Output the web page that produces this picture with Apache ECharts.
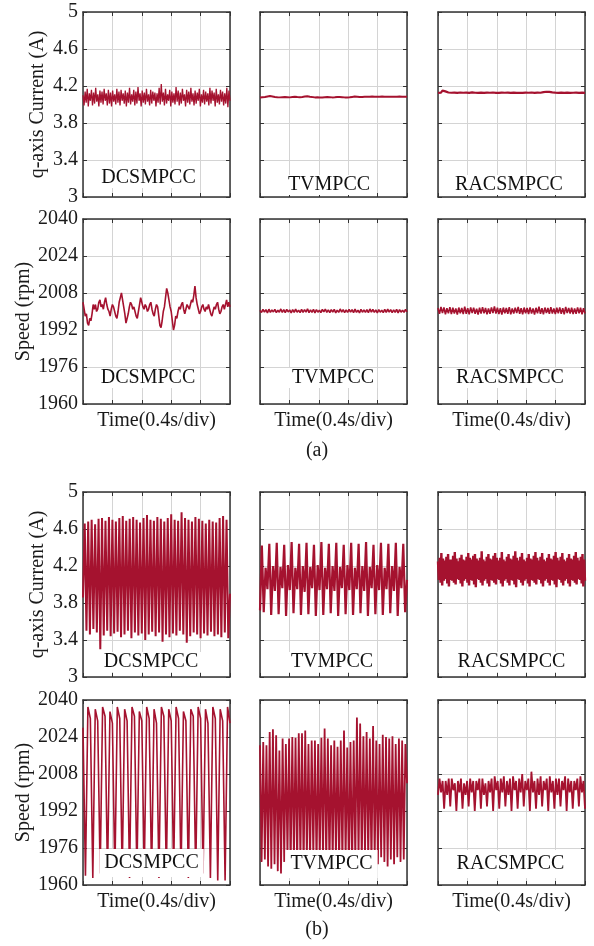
<!DOCTYPE html>
<html>
<head>
<meta charset="utf-8">
<script src="https://cdn.jsdelivr.net/npm/echarts@6/dist/echarts.min.js"></script>
<style>
html,body{margin:0;padding:0;background:#fff;}
#chart{width:594px;height:946px;}
</style>
</head>
<body>
<div id="chart"></div>
<script>
// ---------- data ----------
const methods = ['DCSMPCC', 'TVMPCC', 'RACSMPCC'];
const currentTicks = {min: 3, max: 5, interval: 0.4};
const speedTicks = {min: 1960, max: 2040, interval: 16};
const timeName = 'Time(0.4s/div)';
const currentName = 'q-axis Current (A)';
const speedName = 'Speed (rpm)';
const panelTags = ['(a)', '(b)'];

// (a) q-axis current
const a_iq_dcs = [
4.10,3.99,4.14,4.02,4.17,3.98,4.12,4.04,4.16,3.99,4.13,4.01,4.18,4.03,4.11,3.98,4.15,4.02,4.14,4.00,
4.17,4.04,4.12,3.99,4.16,4.01,4.13,3.98,4.15,4.03,4.11,4.00,4.17,4.02,4.14,3.99,4.16,4.04,4.12,4.01,
4.15,3.98,4.13,4.02,4.18,4.00,4.11,4.03,4.16,3.99,4.14,4.01,4.19,4.04,4.12,3.98,4.15,4.02,4.13,4.00,
4.17,4.03,4.11,3.99,4.16,4.01,4.14,4.04,4.13,3.98,4.12,4.02,4.18,4.00,4.22,4.03,4.13,3.99,4.17,4.01,
4.11,4.04,4.16,3.98,4.14,4.02,4.12,4.00,4.19,4.03,4.15,3.99,4.13,4.01,4.17,4.04,4.11,3.98,4.16,4.02,
4.14,4.00,4.18,4.03,4.12,3.99,4.15,4.01,4.13,4.04,4.17,3.98,4.11,4.02,4.16,4.00,4.14,4.03,4.12,3.99,
4.18,4.01,4.15,4.04,4.13,3.98,4.17,4.02,4.11,4.00,4.16,4.03,4.14,3.99,4.12,4.01,4.18,3.97,4.15,4.04];
const a_iq_tv = [
4.076,4.079,4.082,4.087,4.091,4.087,4.082,4.079,4.077,4.079,
4.081,4.079,4.077,4.080,4.083,4.080,4.078,4.081,4.086,4.089,
4.084,4.080,4.077,4.078,4.076,4.075,4.078,4.080,4.079,4.077,
4.078,4.080,4.081,4.079,4.077,4.076,4.078,4.082,4.086,4.084,
4.081,4.082,4.084,4.083,4.085,4.087,4.085,4.083,4.084,4.086,
4.085,4.083,4.084,4.085,4.083,4.084,4.086,4.085,4.084,4.085];
const a_iq_rac = [
4.125,4.140,4.128,4.150,4.132,4.142,4.124,4.130,4.114,4.127,
4.116,4.129,4.112,4.126,4.115,4.130,4.113,4.127,4.117,4.128,
4.112,4.126,4.115,4.131,4.114,4.127,4.111,4.125,4.116,4.129,
4.113,4.126,4.115,4.128,4.112,4.127,4.116,4.130,4.113,4.126,
4.111,4.125,4.114,4.128,4.112,4.127,4.115,4.129,4.113,4.126,
4.116,4.128,4.112,4.125,4.114,4.127,4.111,4.126,4.115,4.129,
4.113,4.127,4.116,4.130,4.114,4.126,4.112,4.128,4.115,4.127,
4.118,4.133,4.122,4.138,4.124,4.136,4.119,4.131,4.116,4.128,
4.113,4.126,4.115,4.129,4.112,4.125,4.114,4.128,4.111,4.126,
4.115,4.127,4.112,4.129,4.114,4.126,4.113,4.128,4.112,4.125];

// (a) speed
const a_sp_dcs = [
2004,2001,1998,1999,1995,1994,1997,1996,1999,2003,2001,2003,2000,2001,2004,2005,2002,2003,2001,2004,
2006,2003,2001,2000,1998,2001,2003,2002,2000,1998,1997,2000,2004,2006,2008,2005,2002,1999,1995,1997,
1999,2002,2004,2003,2001,2002,2000,1998,1997,2000,2003,2006,2004,2002,2001,2003,2002,2000,2001,2003,
2004,2001,1999,1998,2001,2003,2002,1998,1994,1993,1996,2000,2002,2006,2010,2008,2005,2002,2000,1996,
1992,1994,1998,1997,2000,2002,2001,2003,2004,2001,1999,2001,2003,2002,2001,2003,2005,2004,2007,2011,
2006,2003,2001,1999,2000,2002,2003,2001,2000,2002,2001,2003,2001,1999,1998,2000,2002,2001,2003,2004,
2001,1999,2000,2002,2003,2001,2003,2005,2002,2004,2002];
const a_sp_tv = [
2000.5,1999.6,2000.9,1999.7,2000.8,1999.4,2001.0,1999.6,2000.7,1999.8,
2000.9,1999.5,2000.6,1999.7,2001.1,1999.6,2000.8,1999.5,2000.9,1999.8,
2000.7,1999.4,2000.8,1999.6,2001.0,1999.7,2000.6,1999.5,2000.9,1999.6,
2000.8,1999.7,2001.2,1999.5,2000.7,1999.6,2000.9,1999.4,2000.8,1999.7,
2000.6,1999.5,2000.9,1999.8,2001.0,1999.6,2000.7,1999.5,2000.8,1999.7,
2000.9,1999.4,2000.6,1999.6,2001.1,1999.7,2000.8,1999.5,2000.7,1999.6,
2000.9,1999.7,2000.8,1999.5,2001.0,1999.6,2000.6,1999.4,2000.9,1999.7,
2000.7,1999.6,2000.8,1999.5,2001.1,1999.7,2000.9,1999.6,2000.7,1999.4,
2000.8,1999.7,2000.6,1999.5,2000.9,1999.6,2001.0,1999.7,2000.8,1999.5,
2000.7,1999.6,2000.9,1999.4,2000.8,1999.7,2000.6,1999.6,2000.9,1999.8];
const a_sp_rac = [
2001.5,1999.0,2002.0,1999.3,2001.8,1998.8,2001.4,1999.2,2001.9,1998.9,
2001.6,1999.1,2001.3,1998.7,2001.7,1999.2,2001.5,1998.9,2002.1,1999.0,
2001.4,1998.8,2001.8,1999.3,2001.6,1999.0,2001.2,1998.7,2001.7,1999.1,
2001.9,1999.2,2001.5,1998.8,2001.3,1999.0,2001.8,1999.3,2002.2,1999.1,
2001.6,1998.9,2001.4,1998.7,2001.7,1999.2,2001.5,1999.0,2001.9,1998.8,
2001.3,1999.1,2001.6,1999.3,2002.0,1999.0,2001.4,1998.8,2001.7,1999.2,
2001.5,1998.9,2001.8,1999.1,2001.3,1998.7,2001.6,1999.2,2002.1,1999.0,
2001.4,1998.8,2001.7,1999.3,2001.5,1999.0,2001.9,1999.1,2001.3,1998.9,
2001.6,1999.2,2001.8,1999.0,2001.4,1998.8,2002.0,1999.3,2001.5,1999.1,
2001.7,1998.9,2001.3,1999.0,2001.8,1999.2,2001.6,1998.8,2001.4,1999.1];

// (b) q-axis current
const b_iq_dcs = [3.86,
4.66,3.50,4.68,3.46,4.70,3.52,4.65,3.48,4.71,3.30,4.72,3.45,4.69,3.50,4.73,3.44,4.70,3.47,4.68,3.49,
4.72,3.43,4.74,3.46,4.69,3.50,4.71,3.42,4.73,3.48,4.70,3.45,4.67,3.47,4.72,3.40,4.75,3.46,4.70,3.49,
4.69,3.44,4.73,3.48,4.71,3.38,4.68,3.46,4.72,3.43,4.76,3.47,4.70,3.45,4.69,3.50,4.78,3.46,4.72,3.37,
4.70,3.44,4.68,3.48,4.73,3.46,4.71,3.42,4.69,3.47,4.66,3.45,4.70,3.49,4.68,3.44,4.67,3.46,4.72,3.43,
4.74,3.48,4.70,3.42,3.90];
const b_iq_tv = [
3.72,4.42,3.70,4.18, 3.95,4.44,3.67,4.20, 3.93,4.45,3.68,4.19, 3.96,4.43,3.66,4.21, 3.94,4.46,3.69,4.18,
3.95,4.44,3.67,4.20, 3.92,4.45,3.68,4.19, 3.96,4.43,3.66,4.21, 3.94,4.46,3.67,4.18, 3.95,4.44,3.69,4.20,
3.93,4.45,3.66,4.19, 3.96,4.43,3.68,4.21, 3.94,4.45,3.67,4.18, 3.95,4.44,3.69,4.20, 3.93,4.46,3.66,4.19,
3.96,4.43,3.68,4.21, 3.94,4.45,3.67,4.18, 3.95,4.44,3.69,4.20, 3.93,4.45,3.66,4.19, 3.96,4.44,3.70,4.05];
const b_iq_rac = [
4.25,4.05,4.29,4.02,4.34,3.99,4.28,4.04, 4.26,4.06,4.30,4.01,4.33,3.98,4.27,4.05,
4.27,4.04,4.31,4.02,4.35,4.00,4.28,4.06, 4.25,4.05,4.29,4.01,4.32,3.98,4.27,4.04,
4.26,4.06,4.30,4.02,4.34,3.99,4.29,4.05, 4.27,4.04,4.31,4.00,4.33,3.97,4.28,4.06,
4.26,4.05,4.29,4.02,4.36,3.99,4.27,4.04, 4.25,4.06,4.30,4.01,4.33,3.98,4.28,4.05,
4.27,4.04,4.31,4.02,4.34,4.00,4.29,4.06, 4.26,4.05,4.29,4.01,4.35,3.98,4.27,4.04,
4.25,4.06,4.30,4.02,4.33,3.99,4.28,4.05, 4.27,4.04,4.31,4.00,4.36,3.97,4.29,4.06,
4.26,4.05,4.30,4.02,4.34,3.99,4.27,4.04, 4.25,4.06,4.29,4.01,4.33,3.98,4.28,4.05,
4.27,4.04,4.31,4.02,4.35,4.00,4.29,4.06, 4.26,4.05,4.30,4.01,4.34,3.98,4.27,4.04,
4.25,4.06,4.29,4.02,4.33,3.99,4.28,4.05, 4.27,4.04,4.31,4.00,4.35,3.97,4.29,4.06,
4.26,4.05,4.30,4.02,4.34,3.99,4.27,4.04, 4.25,4.06,4.29,4.01,4.33,3.98,4.28,4.05,
4.27,4.04,4.31,4.02,4.35,4.00,4.29,4.06, 4.26,4.05,4.30,4.01,4.33,3.98,4.27,4.04];

// (b) speed
const b_sp_dcs = [2028,
1964,2037,2032, 1963,2036,2031, 1965,2037,2033, 1964,2035,2030, 1964,2037,2032,
1965,2036,2031, 1963,2037,2033, 1964,2035,2031, 1965,2037,2032, 1964,2036,2030,
1963,2037,2033, 1964,2036,2031, 1965,2037,2032, 1964,2035,2031, 1963,2036,2033,
1964,2037,2032, 1965,2036,2030, 1963,2037,2032, 1962,2036,2031, 1962,2037,2030];
const b_sp_tv = [
2020.4,1970,2021.8,1971,2020.4,1968,2026.2,1967,2027.3,1969,2024.7,1966,2018.2,1965,2023.3,1970,
2021.0,1972,2023.3,1969,2024.0,1971,2023.7,1968,2025.6,1970,2025.6,1967,2026.8,1971,2021.0,1969,
2022.5,1972,2022.5,1968,2021.0,1970,2023.7,1971,2027.7,1969,2023.3,1967,2020.4,1970,2022.5,1972,
2019.8,1968,2022.5,1969,2026.8,1971,2019.5,1967,2021.8,1966,2022.5,1970,2032.4,1971,2029.8,1969,
2024.3,1972,2026.2,1970,2023.3,1968,2028.7,1971,2022.5,1969,2021.0,1972,2025.0,1970,2024.0,1968,
2023.3,1971,2024.3,1969,2021.0,1972,2023.3,1970,2022.5,1971,2021.0,2004];
const b_sp_rac = [1999,
2006,2000,2005,1993, 2005,1999,2006,1994, 2006,2001,2004,1992, 2005,2000,2006,1993,
2004,1999,2005,1994, 2006,2000,2005,1992, 2005,2001,2006,1993, 2006,1999,2004,1994,
2005,2000,2006,1992, 2007,2001,2005,1993, 2006,2000,2007,1994, 2005,1999,2006,1992,
2007,2001,2005,1993, 2006,2000,2008,1994, 2005,2001,2006,1992, 2009,2000,2005,1993,
2006,1999,2007,1994, 2005,2001,2006,1992, 2007,2000,2005,1993, 2006,1999,2006,1994,
2005,2001,2007,1992, 2006,2000,2005,1993, 2005,2001,2006,1994, 2007,2000,2005,1993];

// ---------- layout ----------
const FONT = '"Liberation Serif","Times New Roman",serif';
const RED = '#a5122f';
const colLeft = [83, 260, 438];
const rowTop = [12, 219, 492, 700];
const W = 147, H = 185;

const rows = [
  {ticks: currentTicks, name: currentName, data: [a_iq_dcs, a_iq_tv, a_iq_rac], lw: [1.3, 2.0, 2.2], time: false, pad: [0, 3]},
  {ticks: speedTicks, name: speedName, data: [a_sp_dcs, a_sp_tv, a_sp_rac], lw: [1.6, 1.6, 1.6], time: true, pad: [0, 3]},
  {ticks: currentTicks, name: currentName, data: [b_iq_dcs, b_iq_tv, b_iq_rac], lw: [2.0, 2.2, 2.4], time: false, pad: [0, 3]},
  {ticks: speedTicks, name: speedName, data: [b_sp_dcs, b_sp_tv, b_sp_rac], lw: [1.6, 1.8, 1.8], time: true, pad: [4, 5]}
];
const labelPos = [
  [[148.5, 178], [329, 185], [509, 185]],
  [[148, 378], [333, 378], [510, 378]],
  [[151, 662], [332, 662], [511.5, 662]],
  [[151.5, 863], [331.5, 864], [510.5, 864]]
];
const tagPos = [[317, 451], [317, 930]];

const axisLineStyle = {color: '#333', width: 1.5};
const grid = [], xAxis = [], yAxis = [], series = [], graphic = [];
const fmt = v => String(Math.round(v * 10) / 10);

rows.forEach((row, r) => {
  for (let c = 0; c < 3; c++) {
    const g = r * 3 + c;
    grid.push({left: colLeft[c], top: rowTop[r], width: W, height: H});
    const xBase = {
      gridIndex: g, type: 'value', min: 0, max: 2, interval: 0.4,
      axisLine: {show: true, onZero: false, lineStyle: axisLineStyle},
      axisTick: {show: true, inside: true, length: 4, lineStyle: {color: '#333', width: 1}},
      axisLabel: {show: false}
    };
    xAxis.push(Object.assign({}, xBase, {
      position: 'bottom',
      splitLine: {show: true, lineStyle: {color: '#d4d4d4', width: 1}},
      name: row.time ? timeName : '',
      nameLocation: 'middle', nameGap: 7,
      nameTextStyle: {fontFamily: FONT, fontSize: 20, color: '#1a1a1a', verticalAlign: 'top'}
    }));
    xAxis.push(Object.assign({}, xBase, {position: 'top', splitLine: {show: false}}));
    const yBase = {
      gridIndex: g, type: 'value', min: row.ticks.min, max: row.ticks.max, interval: row.ticks.interval,
      axisLine: {show: true, onZero: false, lineStyle: axisLineStyle},
      axisTick: {show: true, inside: true, length: 4, lineStyle: {color: '#333', width: 1}}
    };
    yAxis.push(Object.assign({}, yBase, {
      position: 'left',
      splitLine: {show: true, lineStyle: {color: '#d4d4d4', width: 1}},
      axisLabel: {show: c === 0, margin: 5, fontFamily: FONT, fontSize: 20, color: '#1a1a1a',
                  showMinLabel: true, showMaxLabel: true, formatter: fmt},
      name: c === 0 ? row.name : '',
      nameLocation: 'middle', nameGap: 35,
      nameTextStyle: {fontFamily: FONT, fontSize: 20, color: '#1a1a1a'}
    }));
    yAxis.push(Object.assign({}, yBase, {position: 'right', splitLine: {show: false}, axisLabel: {show: false}}));
    const arr = row.data[c];
    series.push({
      type: 'line', xAxisIndex: 2 * g, yAxisIndex: 2 * g,
      data: arr.map((v, i) => [i * 2 / (arr.length - 1), v]),
      showSymbol: false, symbol: 'none', silent: true, animation: false,
      lineStyle: {color: RED, width: row.lw[c]}, z: 2
    });
    graphic.push({
      type: 'text', z: 100, x: labelPos[r][c][0], y: labelPos[r][c][1],
      style: {text: methods[c], font: '20px ' + FONT, fill: '#111', align: 'center', verticalAlign: 'middle',
              backgroundColor: '#fff', padding: row.pad}
    });
  }
});
panelTags.forEach((t, i) => {
  graphic.push({type: 'text', z: 100, x: tagPos[i][0], y: tagPos[i][1],
    style: {text: t, font: '20px ' + FONT, fill: '#1a1a1a', align: 'center', verticalAlign: 'middle'}});
});

const chart = echarts.init(document.getElementById('chart'), null, {renderer: 'canvas'});
chart.setOption({animation: false, backgroundColor: '#fff', grid, xAxis, yAxis, series, graphic});
</script>
</body>
</html>
